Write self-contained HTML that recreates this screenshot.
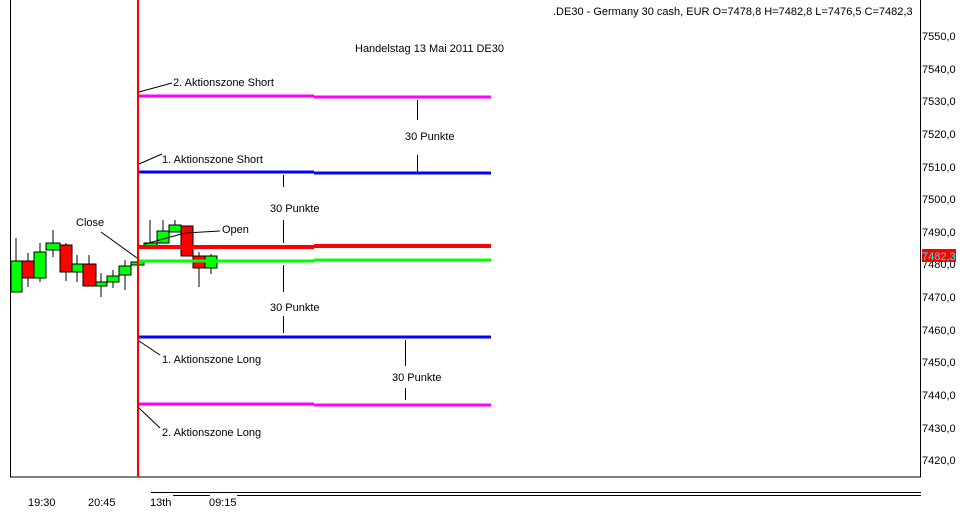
<!DOCTYPE html>
<html><head><meta charset="utf-8"><style>
html,body{margin:0;padding:0;background:#fff}
svg{display:block}
text{font-family:"Liberation Sans",sans-serif;font-size:11px;fill:#000}
</style></head><body>
<svg width="962" height="514" viewBox="0 0 962 514" xmlns="http://www.w3.org/2000/svg">
<rect x="0" y="0" width="962" height="514" fill="#fff"/>
<rect x="10.5" y="-1" width="910" height="478" fill="none" stroke="#000" stroke-width="1"/>
<line x1="151" y1="492.5" x2="921" y2="492.5" stroke="#000"/>
<line x1="173" y1="495.5" x2="210" y2="495.5" stroke="#000"/>
<line x1="237" y1="495.5" x2="921" y2="495.5" stroke="#000"/>
<g>
<text x="922" y="40">7550,0</text><text x="922" y="73">7540,0</text><text x="922" y="105">7530,0</text>
<text x="922" y="138">7520,0</text><text x="922" y="171">7510,0</text><text x="922" y="203">7500,0</text>
<text x="922" y="236">7490,0</text><text x="922" y="268">7480,0</text><text x="922" y="301">7470,0</text>
<text x="922" y="334">7460,0</text><text x="922" y="366">7450,0</text><text x="922" y="399">7440,0</text>
<text x="922" y="432">7430,0</text><text x="922" y="464">7420,0</text>
</g>
<rect x="922" y="249" width="34" height="13" fill="#f00"/>
<text x="922" y="260" style="fill:#0ff">7482,3</text>
<text x="553" y="15">.DE30 - Germany 30 cash, EUR O=7478,8 H=7482,8 L=7476,5 C=7482,3</text>
<text x="355" y="52">Handelstag 13 Mai 2011   DE30</text>
<text x="28" y="506">19:30</text><text x="88" y="506">20:45</text><text x="150" y="506">13th</text><text x="209" y="506">09:15</text>
<!-- candles -->
<g stroke="#000" stroke-width="1">
<line x1="16" y1="238" x2="16" y2="292"/><rect x="11" y="261" width="11" height="31" fill="#0f0"/>
<line x1="28" y1="253" x2="28" y2="287"/><rect x="22" y="261" width="12" height="17" fill="#f00"/>
<line x1="40" y1="243" x2="40" y2="282"/><rect x="34" y="252" width="12" height="26" fill="#0f0"/>
<line x1="53" y1="230" x2="53" y2="257"/><rect x="46" y="243" width="14" height="7" fill="#0f0"/>
<line x1="66" y1="243" x2="66" y2="281"/><rect x="60" y="245" width="12" height="27" fill="#f00"/>
<line x1="77" y1="255" x2="77" y2="282"/><rect x="72" y="264" width="11" height="8" fill="#0f0"/>
<line x1="89" y1="255" x2="89" y2="286"/><rect x="83" y="264" width="13" height="22" fill="#f00"/>
<line x1="101" y1="273" x2="101" y2="297"/><rect x="96" y="282" width="11" height="4" fill="#0f0"/>
<line x1="113" y1="270" x2="113" y2="288"/><rect x="107" y="276" width="12" height="6" fill="#0f0"/>
<line x1="125" y1="260" x2="125" y2="290"/><rect x="119" y="266" width="12" height="9" fill="#0f0"/>
<rect x="131" y="262" width="13" height="3" fill="#0f0"/>
<line x1="150" y1="220" x2="150" y2="246"/><rect x="144" y="243" width="13" height="3" fill="#0f0"/>
<line x1="163" y1="220" x2="163" y2="243"/><rect x="157" y="231" width="12" height="12" fill="#0f0"/>
<line x1="175" y1="220" x2="175" y2="232"/><rect x="169" y="225" width="12" height="7" fill="#0f0"/>
<rect x="181" y="226" width="12" height="30" fill="#f00"/>
<line x1="199" y1="252" x2="199" y2="287"/><rect x="193" y="256" width="12" height="12" fill="#f00"/>
<line x1="211" y1="254" x2="211" y2="274"/><rect x="205" y="256" width="12" height="12" fill="#0f0"/>
</g>
<!-- levels -->
<line x1="139" y1="96" x2="314" y2="96" stroke="#f0f" stroke-width="3"/>
<line x1="314" y1="97" x2="491" y2="97" stroke="#f0f" stroke-width="3"/>
<line x1="139" y1="172" x2="314" y2="172" stroke="#00f" stroke-width="3"/>
<line x1="314" y1="173" x2="491" y2="173" stroke="#00f" stroke-width="3"/>
<line x1="139" y1="247" x2="314" y2="247" stroke="#f00" stroke-width="4"/>
<line x1="314" y1="246" x2="491" y2="246" stroke="#f00" stroke-width="4"/>
<line x1="139" y1="261" x2="314" y2="261" stroke="#0f0" stroke-width="3"/>
<line x1="314" y1="260" x2="491" y2="260" stroke="#0f0" stroke-width="3"/>
<line x1="139" y1="337" x2="491" y2="337" stroke="#00f" stroke-width="3"/>
<line x1="139" y1="404" x2="314" y2="404" stroke="#f0f" stroke-width="3"/>
<line x1="314" y1="405" x2="491" y2="405" stroke="#f0f" stroke-width="3"/>
<line x1="138" y1="0" x2="138" y2="477" stroke="#f00" stroke-width="2"/>
<!-- annotations -->
<g stroke="#000" stroke-width="1">
<line x1="139" y1="92" x2="172" y2="83"/>
<line x1="139" y1="164" x2="162" y2="154"/>
<line x1="139" y1="341" x2="160" y2="355"/>
<line x1="139" y1="408" x2="160" y2="428"/>
<line x1="101" y1="232" x2="137" y2="258"/>
<line x1="145" y1="244" x2="185" y2="233"/><line x1="185" y1="233" x2="220" y2="231"/>
<line x1="417.5" y1="100" x2="417.5" y2="120"/><line x1="417.5" y1="155" x2="417.5" y2="173"/>
<line x1="283.5" y1="175" x2="283.5" y2="187"/><line x1="283.5" y1="220" x2="283.5" y2="243"/>
<line x1="283.5" y1="265" x2="283.5" y2="292"/><line x1="283.5" y1="316" x2="283.5" y2="333"/>
<line x1="405.5" y1="340" x2="405.5" y2="366"/><line x1="405.5" y1="388" x2="405.5" y2="400"/>
</g>
<text x="173" y="86">2. Aktionszone Short</text>
<text x="162" y="163">1. Aktionszone  Short</text>
<text x="162" y="363">1. Aktionszone Long</text>
<text x="162" y="436">2. Aktionszone Long</text>
<text x="76" y="226">Close</text>
<text x="222" y="233">Open</text>
<text x="405" y="140">30 Punkte</text>
<text x="270" y="212">30 Punkte</text>
<text x="270" y="311">30 Punkte</text>
<text x="392" y="381">30 Punkte</text>
</svg>
</body></html>
